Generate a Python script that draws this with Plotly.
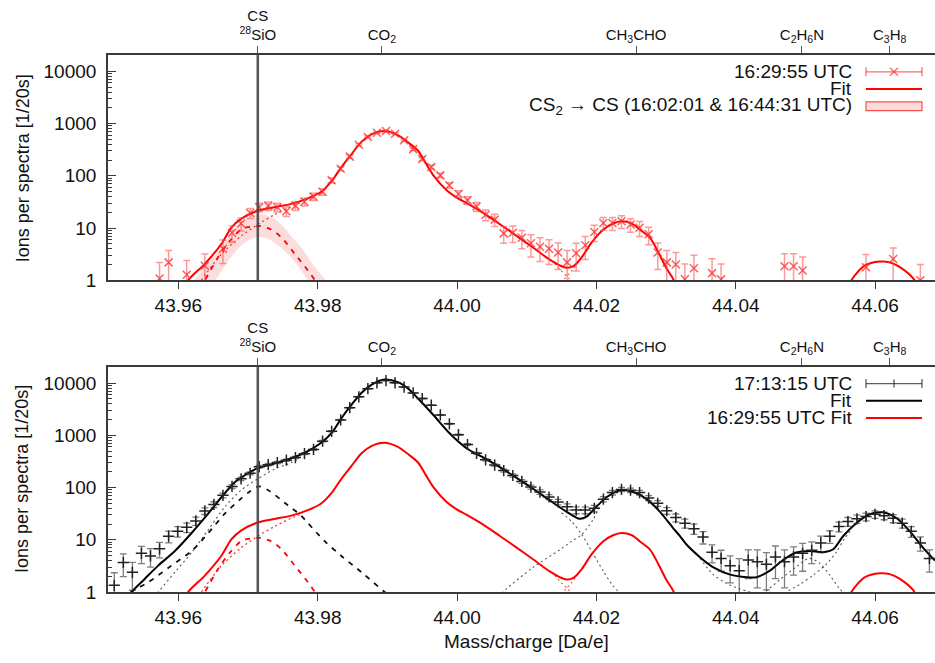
import plotly.graph_objects as go

W, H = 935, 663
FONT = "Liberation Sans, Arial, Helvetica, sans-serif"

# ---------------- mass bins (Da/e) ----------------
mass = [
    43.9508, 43.9521, 43.9534, 43.9547, 43.9560, 43.9573, 43.9586, 43.9599, 43.9612, 43.9625,
    43.9638, 43.9651, 43.9664, 43.9677, 43.9690, 43.9703, 43.9716, 43.9729, 43.9742, 43.9755,
    43.9768, 43.9781, 43.9794, 43.9807, 43.9820, 43.9833, 43.9846, 43.9859, 43.9872, 43.9885,
    43.9898, 43.9911, 43.9924, 43.9937, 43.9950, 43.9963, 43.9976, 43.9989, 44.0002, 44.0015,
    44.0028, 44.0041, 44.0054, 44.0067, 44.0080, 44.0093, 44.0106, 44.0119, 44.0132, 44.0145,
    44.0158, 44.0171, 44.0184, 44.0197, 44.0210, 44.0223, 44.0236, 44.0249, 44.0262, 44.0275,
    44.0288, 44.0301, 44.0314, 44.0327, 44.0340, 44.0353, 44.0366, 44.0379, 44.0392, 44.0405,
    44.0418, 44.0431, 44.0444, 44.0457, 44.0470, 44.0483, 44.0496, 44.0509, 44.0522, 44.0535,
    44.0548, 44.0561, 44.0574, 44.0587, 44.0600, 44.0613, 44.0626, 44.0639, 44.0652, 44.0665,
    44.0678,
]

# ---------------- 16:29:55 UTC spectrum ----------------
ions_1629 = [
    None, None, None, None, None, 1.08, 2.2, None, 1.28, None,
    1.9, None, 4.0, 8.1, 12.2, 19.4, 25, 26.6, 25, 21,
    26.6, 32, 40, 49.5, 82, 136, 233, 392, 554, 668,
    719, 640, 480, 324, 210, 147, 102, 66, 45, 34,
    25.8, 18, 14.5, 7.9, 8.1, 6.5, 5.1, 4.4, 4.0, 3.4,
    2.2, 3.3, 4.7, 8.4, 12.5, 12.5, 13.5, 11.7, 10.1, 7.6,
    3.4, 2.2, 2.0, 1.05, 1.7, None, 1.37, 1.04, None, None,
    None, None, None, None, 1.86, 1.86, 1.54, None, None, None,
    None, None, None, 1.78, None, None, 2.56, None, None, 1.0,
    None,
]
err_1629 = [
    None, None, None, None, None, 1.1, 1.5, None, 1.1, None,
    1.3, None, 1.9, 2.8, 3.4, 4.2, 4.8, 5.0, 4.8, 4.4,
    5.0, 5.5, 6.2, 7.0, 9.0, 11.5, 15, 19, 23, 25,
    26, 25, 21, 18, 14.5, 12, 10, 8, 6.7, 5.8,
    5.1, 4.2, 3.8, 2.8, 2.8, 2.5, 2.3, 2.1, 2.0, 1.8,
    1.5, 1.8, 2.2, 2.9, 3.5, 3.5, 3.7, 3.4, 3.2, 2.8,
    1.8, 1.5, 1.4, 1.0, 1.3, None, 1.2, 1.0, None, None,
    None, None, None, None, 1.35, 1.35, 1.25, None, None, None,
    None, None, None, 1.35, None, None, 1.6, None, None, 1.0,
    None,
]

# ---------------- 17:13:15 UTC spectrum ----------------
ions_1713 = [
    1.34, 3.67, 2.38, 5.5, 4.9, 6.7, 11.7, 14.5, 17.3, 23,
    35.7, 47.5, 71, 105, 147, 188, 251, 274, 302, 334,
    375, 446, 537, 774, 1194, 1976, 3380, 5450, 7810, 10130,
    11200, 10130, 8410, 6500, 5060, 3785, 2455, 1660, 1030, 668,
    452, 340, 269, 211, 170, 131, 102, 82, 66, 53,
    43, 37, 37, 40, 60, 80, 92, 89, 80, 63,
    50, 36, 26.6, 20.8, 16.3, 11.3, 5.8, 4.4, 3.2, 2.56,
    4.1, 3.8, 3.4, 4.7, 3.8, 4.7, 5.5, 6.3, 8.7, 11.7,
    18, 22.4, 25.2, 27.8, 30.8, 29, 25.8, 20.8, 14.5, 8.7,
    4.4,
]
err_1713 = [
    1.0, 1.7, 1.3, 2.0, 1.9, 2.2, 3.0, 3.3, 3.6, 4.2,
    5.2, 6.0, 7.5, 9.0, 11, 12, 14, 15, 16, 17,
    18, 19, 21, 25, 31, 40, 52, 66, 79, 90,
    95, 90, 82, 72, 64, 55, 44, 36, 29, 23,
    19, 16.5, 14.7, 13, 11.7, 10.3, 9.0, 8.1, 7.3, 6.5,
    5.9, 5.5, 5.5, 5.7, 7.0, 8.0, 8.6, 8.5, 8.0, 7.1,
    6.4, 5.4, 4.6, 4.1, 3.6, 3.0, 2.2, 1.9, 1.7, 1.8,
    2.3, 2.6, 2.3, 2.9, 2.6, 2.6, 3.0, 2.8, 3.0, 3.2,
    3.8, 4.3, 4.5, 4.7, 5.0, 4.8, 4.6, 4.1, 3.4, 2.65,
    2.0,
]

# ---------------- fit of the 16:29:55 UTC spectrum ----------------
fit1629_m = [43.9600, 43.9614, 43.9638, 43.9662, 43.9676, 43.9690, 43.9714, 43.9738, 43.9762,
             43.9786, 43.9805, 43.9820, 43.9834, 43.9848, 43.9863, 43.9877, 43.9896, 43.9915,
             43.9930, 43.9944, 43.9955, 43.9966, 43.9985, 43.9999, 44.0014, 44.0038, 44.0062,
             44.0086, 44.0109, 44.0133, 44.0148, 44.0157, 44.0167, 44.0179, 44.0193, 44.0210,
             44.0224, 44.0236, 44.0251, 44.0262, 44.0277, 44.0289, 44.0301, 44.0310, 44.0318,
             None,
             44.0560, 44.0566, 44.0585, 44.0607, 44.0621, 44.0635, 44.0655, 44.0662]
fit1629_v = [0.45, 1.0, 2.06, 5.0, 10.2, 15.0, 21.4, 25.1, 29,
             37, 49.5, 79, 147, 254, 452, 621, 720, 600,
             433, 302, 175, 102, 53, 38.7, 29.9, 19.3, 11.7,
             7.0, 4.24, 2.48, 1.91, 1.73, 1.86, 2.75, 5.25, 9.4,
             12.2, 13.5, 12.2, 9.4, 6.5, 3.4, 1.66, 1.07, 0.6,
             None,
             0.6, 1.0, 1.9, 2.28, 2.2, 1.8, 1.07, 0.7]

# CS component (CS2 -> CS fragment) of the 16:29:55 UTC fit
cs1629_m = [43.9630, 43.9638, 43.9657, 43.9674, 43.9690, 43.9700, 43.9717, 43.9733,
            43.9748, 43.9767, 43.9786, 43.9796, 43.9805]
cs1629_v = [0.7, 1.0, 2.76, 5.7, 9.4, 10.4, 10.9, 9.4, 6.6, 3.2, 1.54, 1.0, 0.7]

# CS2 -> CS expectation band (16:02:01 & 16:44:31 UTC)
band_m = [43.9622, 43.9642, 43.9657, 43.9672, 43.9687, 43.9702, 43.9717, 43.9732,
          43.9747, 43.9762, 43.9777, 43.9792, 43.9812]
band_hi = [1.0, 2.0, 3.7, 7.0, 12, 16.5, 18.5, 16.5, 12, 7.0, 4.2, 2.1, 1.0]
band_lo = [0.3, 0.6, 1.2, 2.4, 4.2, 5.9, 6.8, 5.9, 4.2, 2.7, 1.5, 0.7, 0.3]

# other 16:29:55 UTC fit components
co2_1629_m = [43.9625, 43.9633, 43.9662, 43.9690, 43.9714, 43.9738, 43.9767, 43.9778]
co2_1629_v = [0.7, 1.0, 3.2, 7.0, 11.7, 18, 27.8, 31]
co2tail_1629_m = [44.0140, 44.0150, 44.0160, 44.0170]
co2tail_1629_v = [2.1, 1.5, 1.1, 0.75]
ald_1629_m = [44.0145, 44.0155, 44.0165, 44.0176]
ald_1629_v = [0.75, 1.1, 1.55, 2.5]

# ---------------- fit of the 17:13:15 UTC spectrum ----------------
fit1713_m = [43.9520, 43.9533, 43.9552, 43.9571, 43.9595, 43.9619, 43.9643, 43.9662, 43.9681,
             43.9700, 43.9714, 43.9738, 43.9762, 43.9786, 43.9805, 43.9820, 43.9834, 43.9848,
             43.9863, 43.9877, 43.9896, 43.9915, 43.9930, 43.9944, 43.9966, 43.9990, 44.0014,
             44.0038, 44.0062, 44.0086, 44.0109, 44.0133, 44.0157, 44.0176, 44.0186, 44.0200,
             44.0215, 44.0234, 44.0253, 44.0272, 44.0291, 44.0310, 44.0320, 44.0329, 44.0349,
             44.0368, 44.0392, 44.0416, 44.0430, 44.0449, 44.0468, 44.0487, 44.0506, 44.0525,
             44.0540, 44.0554, 44.0573, 44.0592, 44.0611, 44.0631, 44.0650, 44.0669, 44.0686]
fit1713_v = [0.55, 1.0, 1.8, 3.2, 6.1, 13.5, 32, 66, 127,
             188, 236, 289, 364, 501, 719, 1110, 2128, 3785,
             6560, 9290, 11700, 10450, 7810, 5060, 2450, 1070, 560,
             375, 243, 151, 95, 57, 34.6, 25.2, 27.8, 43,
             66, 89, 82, 60, 34.6, 16.8, 11.7, 8.2, 4.6,
             2.96, 2.15, 1.92, 1.92, 2.56, 4.1, 5.7, 6.1, 5.8,
             6.6, 11.7, 20.8, 30.8, 33.5, 25.8, 14.5, 7.0, 4.0]

# components of the 17:13:15 UTC fit
cs1713_m = [43.9520, 43.9532, 43.9557, 43.9590, 43.9619, 43.9643, 43.9667, 43.9690, 43.9703,
            43.9716, 43.9729, 43.9757, 43.9775, 43.9786, 43.9810, 43.9834, 43.9863, 43.9896, 43.9905]
cs1713_v = [0.7, 1.0, 1.54, 3.2, 6.1, 13.5, 32, 61.5, 85,
            105, 89, 46, 30, 20.8, 9.4, 4.9, 2.38, 1.0, 0.8]
co2_1713_m = [43.9560, 43.9571, 43.9595, 43.9619, 43.9643, 43.9667, 43.9690, 43.9714,
              43.9738, 43.9757, 43.9770]
co2_1713_v = [0.7, 1.0, 2.4, 5.7, 15.6, 43, 89, 147, 226, 281, 340]
co2tail_1713_m = [44.0150, 44.0165, 44.0179, 44.0195, 44.0210, 44.0224, 44.0236]
co2tail_1713_v = [33, 22, 12.6, 5.5, 2.5, 1.3, 0.9]
ald_l_1713_m = [44.0060, 44.0066, 44.0109, 44.0148, 44.0165, 44.0179, 44.0195, 44.0205]
ald_l_1713_v = [0.8, 1.0, 2.96, 6.5, 9.5, 12.6, 24, 45]
ald_r_1713_m = [44.0349, 44.0367, 44.0385, 44.0405, 44.0420, 44.0428]
ald_r_1713_v = [4.4, 2.2, 1.5, 1.15, 1.0, 0.9]
c2h6n_1713_m = [44.0432, 44.0442, 44.0463, 44.0485, 44.0505, 44.0520, 44.0535, 44.0548, 44.0558]
c2h6n_1713_v = [0.8, 1.0, 1.7, 2.9, 4.4, 3.6, 2.1, 1.2, 0.85]
c3h8_1713_m = [44.0465, 44.0473, 44.0492, 44.0511, 44.0530, 44.0545, 44.0556, 44.0566]
c3h8_1713_v = [0.8, 1.0, 1.4, 2.1, 3.4, 6.0, 10.5, 15.5]

# ---------------- axes ----------------
x_ticks = [43.96, 43.98, 44.00, 44.02, 44.04, 44.06]
x_ticktext = ["43.96", "43.98", "44.00", "44.02", "44.04", "44.06"]
y_ticks = [1, 10, 100, 1000, 10000]
y_ticktext = ["1", "10", "100", "1000", "10000"]
species_mass = [43.9714, 43.9892, 44.0257, 44.0495, 44.0621]
species_text = ["CS<br><sup>28</sup>SiO", "CO<sub>2</sub>", "CH<sub>3</sub>CHO",
                "C<sub>2</sub>H<sub>6</sub>N", "C<sub>3</sub>H<sub>8</sub>"]
cs_line_mass = 43.9714

X_RANGE = [43.9499, 44.0686]
Y_RANGE = [0, 4.312]


def px(x):
    return x / W


def py(y):
    return 1 - y / H


RED = "#ff0000"
fig = go.Figure()


def curve(xs, ys, xa, ya, color, width, dash="solid"):
    fig.add_trace(go.Scatter(x=xs, y=ys, xaxis=xa, yaxis=ya, mode="lines",
                             line=dict(color=color, width=width, dash=dash, shape="spline",
                                       smoothing=0.8),
                             connectgaps=False, showlegend=False, hoverinfo="skip"))


# ===== upper panel =====
fig.add_trace(go.Scatter(x=band_m, y=band_lo, xaxis="x", yaxis="y", mode="lines",
                         line=dict(width=0, shape="spline"), showlegend=False, hoverinfo="skip"))
fig.add_trace(go.Scatter(x=band_m, y=band_hi, xaxis="x", yaxis="y", mode="lines",
                         line=dict(width=0, shape="spline"), fill="tonexty",
                         fillcolor="rgba(245,150,150,0.32)", showlegend=False, hoverinfo="skip"))
curve(co2_1629_m, co2_1629_v, "x", "y", "rgba(255,0,0,0.8)", 1.3, "2px,3px")
curve(co2tail_1629_m, co2tail_1629_v, "x", "y", "rgba(255,0,0,0.7)", 1.2, "2px,3px")
curve(ald_1629_m, ald_1629_v, "x", "y", "rgba(255,0,0,0.7)", 1.2, "2px,3px")
curve(cs1629_m, cs1629_v, "x", "y", RED, 1.8, "5px,6px")
curve(fit1629_m, fit1629_v, "x", "y", RED, 2)
fig.add_trace(go.Scatter(
    x=mass, y=ions_1629, xaxis="x", yaxis="y", mode="markers",
    marker=dict(symbol="x-thin", size=8, color="rgba(255,40,40,0.75)",
                line=dict(width=1.5, color="rgba(255,40,40,0.75)")),
    error_y=dict(type="data", array=err_1629, visible=True, color="rgba(255,70,70,0.55)",
                 thickness=1.5, width=3.5),
    showlegend=False, hoverinfo="skip"))

# ===== lower panel =====
GREY_DOT = "rgba(60,60,60,0.85)"
for xs, ys in [(co2_1713_m, co2_1713_v), (co2tail_1713_m, co2tail_1713_v),
               (ald_l_1713_m, ald_l_1713_v), (ald_r_1713_m, ald_r_1713_v),
               (c2h6n_1713_m, c2h6n_1713_v), (c3h8_1713_m, c3h8_1713_v)]:
    curve(xs, ys, "x2", "y2", GREY_DOT, 1.1, "2px,3px")
curve(cs1713_m, cs1713_v, "x2", "y2", "#111111", 1.8, "5px,6px")
curve(co2_1629_m, co2_1629_v, "x2", "y2", "rgba(255,0,0,0.8)", 1.3, "2px,3px")
curve(co2tail_1629_m, co2tail_1629_v, "x2", "y2", "rgba(255,0,0,0.7)", 1.2, "2px,3px")
curve(ald_1629_m, ald_1629_v, "x2", "y2", "rgba(255,0,0,0.7)", 1.2, "2px,3px")
curve(cs1629_m, cs1629_v, "x2", "y2", RED, 1.8, "5px,6px")
curve(fit1629_m, fit1629_v, "x2", "y2", RED, 2)
curve(fit1713_m, fit1713_v, "x2", "y2", "#000000", 2)
fig.add_trace(go.Scatter(
    x=mass, y=ions_1713, xaxis="x2", yaxis="y2", mode="markers",
    marker=dict(symbol="cross-thin", size=8, color="#222222",
                line=dict(width=1.5, color="#222222")),
    error_y=dict(type="data", array=err_1713, visible=True, color="rgba(40,40,40,0.6)",
                 thickness=1.3, width=3.5),
    showlegend=False, hoverinfo="skip"))

# species reference axes along the top of each panel (transparent anchors so they render)
for xa, ya in [("x3", "y"), ("x4", "y2")]:
    fig.add_trace(go.Scatter(x=species_mass, y=[1] * len(species_mass), xaxis=xa, yaxis=ya,
                             mode="markers", marker=dict(opacity=0, size=1),
                             showlegend=False, hoverinfo="skip"))

AXC = "#3a3a3a"
top_dom = [py(285), py(56)]
bot_dom = [py(602), py(373)]
x_dom = [px(108), 1.0]

xbase = dict(range=X_RANGE, domain=x_dom, tickvals=x_ticks, ticktext=x_ticktext,
             ticks="outside", ticklen=7, tickwidth=1.3, tickcolor=AXC,
             showline=True, linecolor=AXC, linewidth=1.6, showgrid=False, zeroline=False,
             tickfont=dict(family=FONT, size=19, color="#111"))
ybase = dict(type="log", range=Y_RANGE, tickvals=y_ticks, ticktext=y_ticktext,
             ticks="inside", ticklen=8, tickwidth=1.3, tickcolor=AXC,
             minor=dict(ticks="inside", ticklen=4, tickwidth=1, tickcolor=AXC, dtick="D1",
                        showgrid=False),
             showline=True, linecolor=AXC, linewidth=1.6, showgrid=False, zeroline=False,
             ticklabelstandoff=6,
             tickfont=dict(family=FONT, size=19, color="#111"))
sbase = dict(range=X_RANGE, side="top", tickvals=species_mass, ticktext=species_text,
             ticks="outside", ticklen=7, tickwidth=1.3, tickcolor="#555",
             showline=True, linecolor=AXC, linewidth=1.6, showgrid=False, zeroline=False,
             tickfont=dict(family=FONT, size=15, color="#111"))

layout = dict(
    width=W, height=H, margin=dict(l=0, r=0, t=0, b=0),
    paper_bgcolor="white", plot_bgcolor="white", showlegend=False,
    xaxis=dict(xbase, anchor="y"),
    yaxis=dict(ybase, domain=top_dom, anchor="x"),
    xaxis2=dict(xbase, anchor="y2"),
    yaxis2=dict(ybase, domain=bot_dom, anchor="x2"),
    xaxis3=dict(sbase, overlaying="x", anchor="y"),
    xaxis4=dict(sbase, overlaying="x2", anchor="y2"),
)
fig.update_layout(**layout)

shapes = []
annotations = []
# CS / 28SiO marker line in both panels
for xr, yr in [("x", "y domain"), ("x2", "y2 domain")]:
    shapes.append(dict(type="line", xref=xr, yref=yr, x0=cs_line_mass, x1=cs_line_mass,
                       y0=0, y1=1, line=dict(color="rgba(70,70,70,0.9)", width=2.6)))


def legend_row(y, text, kind, color):
    annotations.append(dict(xref="paper", yref="paper", x=px(854), y=py(y), text=text,
                            showarrow=False, xanchor="right", yanchor="middle",
                            font=dict(family=FONT, size=19, color="#111")))
    x0, x1 = px(866), px(922)
    if kind in ("line", "err_x", "err_plus"):
        w = 2 if kind == "line" else 1.3
        shapes.append(dict(type="line", xref="paper", yref="paper", x0=x0, x1=x1,
                           y0=py(y), y1=py(y), line=dict(color=color, width=w)))
    if kind in ("err_x", "err_plus"):
        for xc in (866, 922):
            shapes.append(dict(type="line", xref="paper", yref="paper", x0=px(xc), x1=px(xc),
                               y0=py(y - 4.5), y1=py(y + 4.5), line=dict(color=color, width=1.3)))
        if kind == "err_x":
            shapes.append(dict(type="line", xref="paper", yref="paper", x0=px(890), x1=px(898),
                               y0=py(y - 4), y1=py(y + 4), line=dict(color=color, width=1.4)))
            shapes.append(dict(type="line", xref="paper", yref="paper", x0=px(890), x1=px(898),
                               y0=py(y + 4), y1=py(y - 4), line=dict(color=color, width=1.4)))
        else:
            shapes.append(dict(type="line", xref="paper", yref="paper", x0=px(894), x1=px(894),
                               y0=py(y - 4), y1=py(y + 4), line=dict(color=color, width=1.4)))
    if kind == "box":
        shapes.append(dict(type="rect", xref="paper", yref="paper", x0=x0, x1=x1,
                           y0=py(y + 4.5), y1=py(y - 4.5), fillcolor="rgba(245,150,150,0.32)",
                           line=dict(color="rgba(255,40,40,0.8)", width=1.2)))


legend_row(73, "16:29:55 UTC", "err_x", "rgba(255,60,60,0.75)")
legend_row(90.5, "Fit", "line", RED)
legend_row(108, "CS<sub>2</sub> \u2192 CS (16:02:01 &amp; 16:44:31 UTC)", "box", RED)
legend_row(390, "17:13:15 UTC", "err_plus", "rgba(40,40,40,0.75)")
legend_row(407.5, "Fit", "line", "#000000")
legend_row(425, "16:29:55 UTC Fit", "line", RED)

for yc in (171.7, 487.5):
    annotations.append(dict(xref="paper", yref="paper", x=px(22.5), y=py(yc),
                            text="Ions per spectra [1/20s]", textangle=-90, showarrow=False,
                            xanchor="center", yanchor="middle",
                            font=dict(family=FONT, size=18, color="#111")))
annotations.append(dict(xref="paper", yref="paper", x=px(526.5), y=py(652),
                        text="Mass/charge [Da/e]", showarrow=False,
                        xanchor="center", yanchor="middle",
                        font=dict(family=FONT, size=19, color="#111")))

fig.update_layout(shapes=shapes, annotations=annotations)
fig.write_html("out.html")
